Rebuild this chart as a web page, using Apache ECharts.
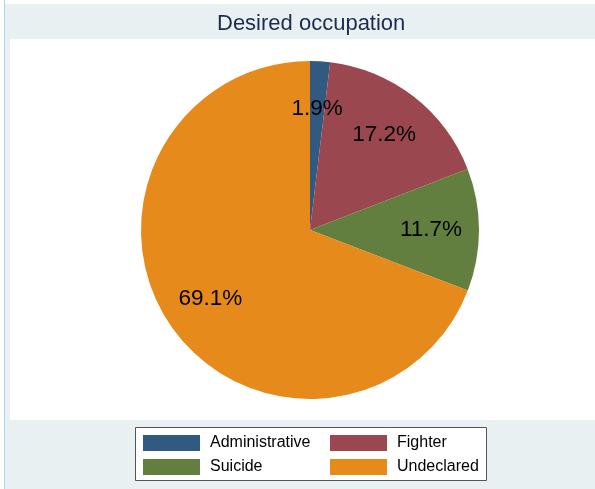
<!DOCTYPE html>
<html>
<head>
<meta charset="utf-8">
<script src="https://cdn.jsdelivr.net/npm/echarts@6/dist/echarts.min.js"></script>
<style>
  html, body { margin: 0; padding: 0; background: #fff; }
  #main { width: 595px; height: 489px; }
</style>
</head>
<body>
<div id="main"></div>
<script>
// slices, clockwise from 12 o'clock
var occupations = ['Administrative', 'Fighter', 'Suicide', 'Undeclared'];
var shares = [1.9, 17.2, 11.7, 69.1];
var colors = ['#305a7f', '#9a4750', '#637f3f', '#e68a1b'];

var pieData = [];
for (var i = 0; i < occupations.length; i++) {
    pieData.push({ name: occupations[i], value: shares[i], itemStyle: { color: colors[i] } });
}
// same slices again, only to carry the labels a bit further out
var labelData = [];
for (var i = 0; i < occupations.length; i++) {
    labelData.push({ name: occupations[i], value: shares[i] });
}

var legendStyle = {
    orient: 'vertical',
    top: 430,
    itemWidth: 57,
    itemHeight: 16,
    itemGap: 8,
    icon: 'rect',
    selectedMode: false,
    textStyle: {
        fontFamily: 'Liberation Sans, Arial, sans-serif',
        fontSize: 16,
        color: '#000',
        lineHeight: 16,
        padding: [0, 0, 0, 5]
    }
};

var option = {
    backgroundColor: '#e8f0f2',
    animation: false,
    title: {
        text: 'Desired occupation',
        left: 212,
        top: 8,
        textStyle: {
            fontFamily: 'Liberation Sans, Arial, sans-serif',
            fontSize: 22,
            fontWeight: 'normal',
            color: '#1c2b4f'
        }
    },
    graphic: [
        { type: 'rect', z: -10, shape: { x: 0, y: 0, width: 595, height: 4 }, style: { fill: '#ffffff' } },
        { type: 'rect', z: -10, shape: { x: 0, y: 0, width: 4, height: 489 }, style: { fill: '#ffffff' } },
        { type: 'line', z: -9, shape: { x1: 4.5, y1: 0, x2: 4.5, y2: 489 }, style: { stroke: '#b4cfee', lineWidth: 1 } },
        { type: 'rect', z: -9, shape: { x: 10, y: 39, width: 585, height: 381 }, style: { fill: '#ffffff' } },
        { type: 'rect', z: -8, shape: { x: 135.5, y: 427.5, width: 351, height: 53 }, style: { fill: '#ffffff', stroke: '#555555', lineWidth: 1 } }
    ],
    legend: [
        Object.assign({ left: 138, data: ['Administrative', 'Suicide'] }, legendStyle),
        Object.assign({ left: 325, data: ['Fighter', 'Undeclared'] }, legendStyle)
    ],
    series: [
        {
            name: 'slices',
            type: 'pie',
            center: [310, 230],
            radius: 169,
            startAngle: 90,
            clockwise: true,
            label: { show: false },
            labelLine: { show: false },
            itemStyle: { borderWidth: 0 },
            emphasis: { disabled: true },
            data: pieData
        },
        {
            name: 'labels',
            type: 'pie',
            center: [310, 230],
            radius: [67, 169],
            startAngle: 90,
            clockwise: true,
            silent: true,
            legendHoverLink: false,
            avoidLabelOverlap: false,
            itemStyle: { color: 'rgba(0,0,0,0)', borderWidth: 0 },
            label: {
                show: true,
                position: 'inside',
                formatter: '{c}%',
                color: '#000',
                fontFamily: 'Liberation Sans, Arial, sans-serif',
                fontSize: 22.5,
                textBorderWidth: 0
            },
            labelLine: { show: false },
            emphasis: { disabled: true },
            data: labelData
        }
    ]
};

var chart = echarts.init(document.getElementById('main'));
chart.setOption(option);
</script>
</body>
</html>
